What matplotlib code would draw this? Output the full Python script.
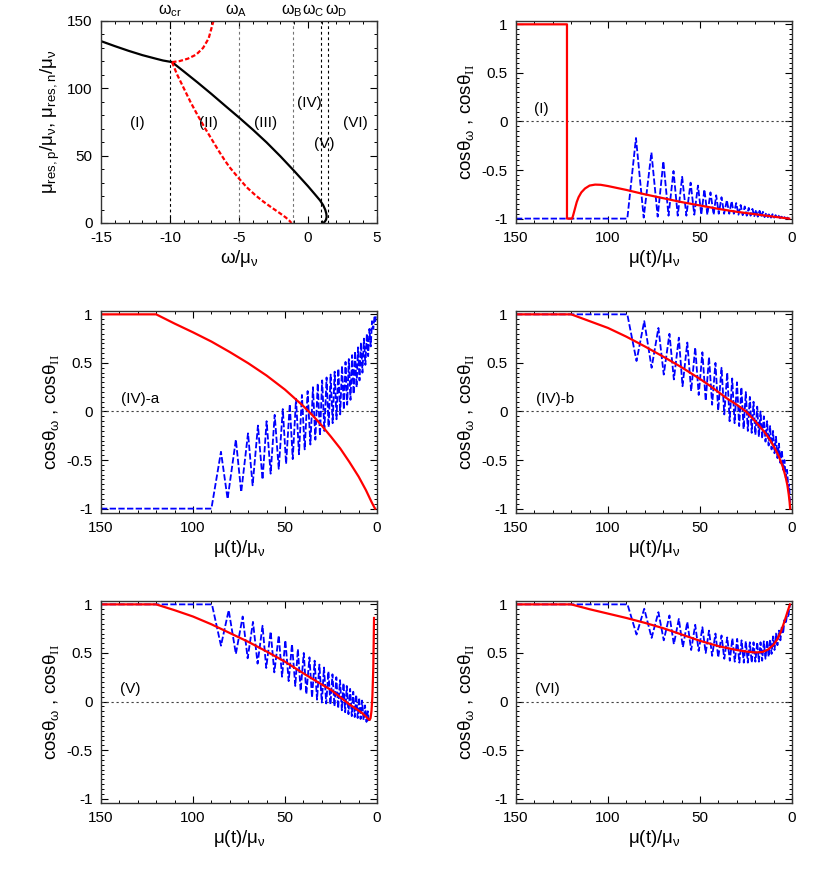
import numpy as np
import matplotlib
matplotlib.use("Agg")
import matplotlib.pyplot as plt
from matplotlib.ticker import MultipleLocator, FixedLocator, FixedFormatter

plt.rcParams['font.family'] = ['Liberation Sans', 'DejaVu Sans']
plt.rcParams['mathtext.fontset'] = 'custom'
plt.rcParams['mathtext.rm'] = 'Liberation Serif'
plt.rcParams['mathtext.default'] = 'regular'
plt.rcParams['axes.unicode_minus'] = False

# ---- panel 1: resonance curves vs omega ----
black_left_w = [-15, -14, -13, -12, -11, -10.5, -10.0, -9.85]
black_left_mu = [135, 131.3, 127.8, 124.6, 121.9, 120.6, 119.7, 119.4]
black_right_w = [-9.85, -9, -8, -7, -6, -5, -4, -3, -2, -1, 0, 0.5, 0.87, 1.1, 1.25, 1.33, 1.35, 1.31, 1.22, 1.1]
black_right_mu = [119.4, 112.5, 104.3, 95.8, 87.0, 78.3, 69.3, 59.8, 49.5, 38.6, 27.3, 21.3, 16.8, 13.2, 9.8, 6.8, 4.5, 2.5, 1.0, 0.0]
red_up_w = [-9.85, -9.3, -8.7, -8.1, -7.6, -7.2, -6.85]
red_up_mu = [119.4, 120.2, 122.0, 125.0, 130.0, 137.0, 150.0]
red_low_w = [-9.85, -9.5, -9.0, -8.5, -8.0, -7.5, -7.0, -6.5, -6.0, -5.65, -5.0, -4.44, -3.8, -3.24, -2.6, -2.03, -1.6, -1.35, -1.2]
red_low_mu = [119.4, 110.5, 100.0, 89.5, 80.0, 71.0, 62.5, 54.0, 46.0, 41.0, 33.0, 26.5, 20.5, 15.9, 11.2, 7.2, 4.0, 1.7, 0.0]
omega_marks = [-10.0, -5.0, -1.1, 0.95, 1.45]
omega_colors = ['black', '0.45', '0.45', 'black', 'black']
omega_names = [r'ω$_{cr}$', r'ω$_{A}$', r'ω$_{B}$', r'ω$_{C}$', r'ω$_{D}$']
omega_name_x = [-10.0, -5.2, -1.2, 0.35, 2.0]
region_names = ['(I)', '(II)', '(III)', '(IV)', '(V)', '(VI)']
region_x = [-12.4, -7.2, -3.1, 0.1, 1.2, 3.4]
region_y = [74, 74, 74, 89, 59, 74]

# ---- panel (I) ----
I_red_mu = [150, 122.3, 122.3, 119.5, 119, 118, 117, 116, 114.5, 112.5, 110, 107, 104, 100, 90, 80, 70, 60, 50, 40, 30, 20, 10, 1.5]
I_red_c = [1, 1, -1, -1, -0.97, -0.90, -0.83, -0.78, -0.73, -0.69, -0.66, -0.65, -0.652, -0.665, -0.705, -0.75, -0.79,
           -0.83, -0.865, -0.90, -0.93, -0.955, -0.98, -1.0]
I_blue_mu = [150, 89.5, 84.8, 80.6, 76.4, 73.0, 69.9, 67.1, 64.4, 62.1, 59.7, 57.4, 55.1, 53.1, 51.1, 49.3,
             47.6, 46.0, 44.3, 42.6, 41.2, 39.8, 38.3, 36.9, 35.4, 34.1, 32.8, 31.6, 30.3, 29.1, 27.9, 26.8,
             25.7, 24.6, 23.5, 22.5, 21.5, 20.5, 19.5, 18.6, 17.6, 16.7, 15.8, 14.9, 14.0, 13.1, 12.3, 11.4,
             10.6, 9.7, 8.9, 8.1, 7.3, 6.5, 5.7, 4.9, 4.1, 3.3, 2.5, 1.7, 1.0]
I_blue_c = [-1, -1, -0.17, -0.99, -0.32, -0.98, -0.41, -0.97, -0.51, -0.97, -0.57, -0.97, -0.63, -0.96, -0.66, -0.96,
            -0.70, -0.96, -0.73, -0.96, -0.76, -0.95, -0.78, -0.95, -0.81, -0.95, -0.82, -0.95, -0.84, -0.96, -0.86, -0.965,
            -0.875, -0.97, -0.89, -0.97, -0.90, -0.975, -0.91, -0.98, -0.92, -0.98, -0.93, -0.985, -0.94, -0.985, -0.95, -0.99,
            -0.955, -0.99, -0.965, -0.99, -0.97, -0.995, -0.98, -0.995, -0.985, -1.0, -0.99, -1.0, -1.0]

# ---- panel (IV)-a ----
IVa_red_mu = [150, 120, 110, 100, 90, 80, 70, 60, 50, 45, 40, 35, 30, 25, 20, 15, 10, 6, 3, 1.5, 1.0]
IVa_red_c = [1, 1, 0.905, 0.815, 0.72, 0.612, 0.497, 0.37, 0.225, 0.14, 0.055, -0.04, -0.145, -0.26, -0.38, -0.52,
             -0.67, -0.81, -0.93, -0.985, -1.0]
IVa_blue_mu = [150, 90, 84.8, 81.2, 76.7, 73.8, 70.1, 67.6, 64.7, 62.2, 60.0, 57.8, 55.6, 53.4, 51.2, 49.4,
               47.4, 45.8, 44.0, 42.4, 40.8, 39.3, 37.7, 36.2, 34.8, 33.5, 32.2, 31.0, 29.8, 28.6, 27.4, 26.3,
               25.2, 24.1, 23.0, 22.0, 21.0, 20.0, 19.0, 18.0, 17.1, 16.2, 15.3, 14.4, 13.5, 12.7, 11.9, 11.1,
               10.3, 9.5, 8.7, 7.9, 7.1, 6.3, 5.5, 4.8, 4.1, 3.4, 2.7, 2.0, 1.4, 0.9, 0.5]
IVa_blue_c = [-1, -1, -0.415, -0.90, -0.29, -0.83, -0.225, -0.76, -0.145, -0.70, -0.10, -0.64, -0.035, -0.59, 0.025, -0.54,
              0.075, -0.49, 0.13, -0.44, 0.17, -0.39, 0.21, -0.34, 0.25, -0.29, 0.29, -0.25, 0.32, -0.20, 0.35, -0.16,
              0.38, -0.12, 0.41, -0.08, 0.44, -0.03, 0.47, 0.02, 0.51, 0.07, 0.54, 0.12, 0.58, 0.18, 0.62, 0.25,
              0.66, 0.32, 0.71, 0.40, 0.75, 0.48, 0.80, 0.57, 0.85, 0.67, 0.93, 0.85, 0.97, 0.93, 1.0]

# ---- panel (IV)-b ----
IVb_red_mu = [150, 120, 110, 100, 90, 80, 70, 60, 50, 45, 40, 35, 30, 25, 20, 15, 12, 9, 7, 5, 3.5, 2.5, 1.8, 1.3, 1.0]
IVb_red_c = [1, 1, 0.93, 0.86, 0.77, 0.67, 0.565, 0.455, 0.335, 0.27, 0.20, 0.13, 0.07, 0.0, -0.10, -0.21, -0.29,
             -0.39, -0.47, -0.57, -0.67, -0.76, -0.85, -0.93, -1.0]
IVb_blue_mu = [150, 89.5, 84.5, 80.3, 76.3, 72.6, 69.7, 66.6, 64.2, 61.5, 59.5, 56.9, 54.8, 52.6, 50.7, 48.7,
               46.9, 45.1, 43.4, 41.6, 40.1, 38.3, 36.8, 35.2, 33.9, 32.5, 31.2, 29.9, 28.7, 27.5, 26.3, 25.1,
               24.0, 22.9, 21.9, 20.9, 19.9, 18.9, 18.0, 17.1, 16.2, 15.3, 14.4, 13.5, 12.7, 11.9, 11.1, 10.3,
               9.5, 8.7, 7.9, 7.1, 6.3, 5.5, 4.8, 4.1, 3.4, 2.7, 2.0, 1.5, 1.0]
IVb_blue_c = [1, 1, 0.52, 0.93, 0.45, 0.86, 0.38, 0.80, 0.33, 0.76, 0.26, 0.71, 0.21, 0.66, 0.17, 0.61,
              0.11, 0.56, 0.07, 0.50, 0.01, 0.45, -0.03, 0.40, -0.10, 0.34, -0.12, 0.30, -0.15, 0.25, -0.18, 0.20,
              -0.20, 0.15, -0.22, 0.10, -0.24, 0.05, -0.26, 0.0, -0.28, -0.05, -0.31, -0.10, -0.35, -0.15, -0.39, -0.20,
              -0.43, -0.26, -0.48, -0.33, -0.53, -0.40, -0.60, -0.50, -0.68, -0.60, -0.78, -0.75, -1.0]

# ---- panel (V) ----
V_red_mu = [150, 120, 110, 100, 90, 80, 70, 60, 50, 40, 30, 25, 20, 15, 11, 8, 6, 4.5, 4.0, 3.5, 3.0, 2.5, 2.0, 1.6]
V_red_c = [1, 1, 0.94, 0.875, 0.795, 0.705, 0.615, 0.515, 0.41, 0.29, 0.175, 0.12, 0.045, -0.03, -0.08, -0.12,
           -0.155, -0.185, -0.19, -0.17, -0.10, 0.05, 0.35, 0.86]
V_blue_mu = [150, 89.7, 84.8, 80.6, 76.7, 73.0, 70.3, 67.4, 64.9, 62.2, 60.2, 57.8, 55.8, 53.4, 51.6, 49.8,
             48.0, 46.2, 44.4, 43.0, 41.5, 39.8, 38.4, 36.7, 35.3, 33.9, 32.6, 31.3, 30.0, 28.8, 27.6, 26.4,
             25.3, 24.2, 23.1, 22.1, 21.1, 20.1, 19.1, 18.2, 17.3, 16.4, 15.5, 14.6, 13.7, 12.9, 12.1, 11.3,
             10.5, 9.7, 8.9, 8.1, 7.3, 6.5, 5.7, 5.0, 4.4, 4.1]
V_blue_c = [1, 1, 0.575, 0.94, 0.49, 0.875, 0.445, 0.82, 0.39, 0.78, 0.345, 0.72, 0.30, 0.68, 0.255, 0.63,
            0.21, 0.59, 0.16, 0.54, 0.11, 0.50, 0.076, 0.455, 0.04, 0.42, 0.02, 0.38, -0.01, 0.35, -0.02, 0.31,
            -0.03, 0.28, -0.05, 0.25, -0.07, 0.22, -0.09, 0.19, -0.11, 0.16, -0.13, 0.13, -0.15, 0.10, -0.16, 0.07,
            -0.17, 0.04, -0.18, 0.01, -0.19, -0.04, -0.21, -0.10, -0.21, -0.19]

# ---- panel (VI) ----
VI_red_mu = [150, 120, 110, 100, 90, 80, 70, 60, 50, 40, 30, 25, 20, 16, 13, 10, 8, 6, 4, 2.5, 1.1]
VI_red_c = [1, 1, 0.95, 0.905, 0.86, 0.81, 0.755, 0.69, 0.625, 0.57, 0.53, 0.515, 0.505, 0.51, 0.535, 0.585,
            0.64, 0.72, 0.83, 0.92, 1.0]
VI_blue_mu = [150, 89.4, 84.5, 80.3, 76.3, 72.6, 69.7, 66.6, 64.2, 61.5, 59.3, 56.9, 54.8, 52.6, 50.7, 48.7,
              46.9, 45.1, 43.4, 41.6, 40.1, 38.3, 36.8, 35.2, 33.8, 32.4, 31.1, 29.8, 28.6, 27.4, 26.2, 25.1,
              24.0, 22.9, 21.9, 20.9, 19.9, 18.9, 18.0, 17.1, 16.2, 15.3, 14.4, 13.5, 12.7, 11.9, 11.1, 10.3,
              9.5, 8.7, 7.9, 7.1, 6.3, 5.5, 4.8, 4.1, 3.4, 2.7, 2.0, 1.1]
VI_blue_c = [1, 1, 0.69, 0.955, 0.655, 0.92, 0.63, 0.886, 0.59, 0.85, 0.56, 0.82, 0.53, 0.79, 0.52, 0.765,
             0.50, 0.73, 0.47, 0.70, 0.455, 0.68, 0.44, 0.66, 0.42, 0.65, 0.41, 0.645, 0.40, 0.63, 0.40, 0.62,
             0.40, 0.61, 0.40, 0.61, 0.41, 0.61, 0.41, 0.61, 0.42, 0.62, 0.44, 0.63, 0.46, 0.64, 0.49, 0.67,
             0.53, 0.70, 0.58, 0.73, 0.63, 0.78, 0.70, 0.84, 0.80, 0.89, 0.88, 1.0]

cos_ticks = [-1, -0.5, 0, 0.5, 1]
cos_tick_labels = ['-1', '-0.5', '0', '0.5', '1']
mu_ticks = [150, 100, 50, 0]
mu_tick_labels = ['150', '100', '50', '0']

panels = [
    ('(I)', I_red_mu, I_red_c, I_blue_mu, I_blue_c, 136),
    ('(IV)-a', IVa_red_mu, IVa_red_c, IVa_blue_mu, IVa_blue_c, 129),
    ('(IV)-b', IVb_red_mu, IVb_red_c, IVb_blue_mu, IVb_blue_c, 129),
    ('(V)', V_red_mu, V_red_c, V_blue_mu, V_blue_c, 134),
    ('(VI)', VI_red_mu, VI_red_c, VI_blue_mu, VI_blue_c, 133),
]

fig = plt.figure(figsize=(8.3, 8.72), dpi=100)

col_left = [0.1217, 0.6217]
row_bottom = [0.7443, 0.4117, 0.0791]
ax_w, ax_h = 0.3325, 0.2317


def style_axes(ax):
    for sp in ax.spines.values():
        sp.set_linewidth(1.0)
        sp.set_color('0.2')
    ax.tick_params(which='both', direction='in', top=True, right=True, labelsize=11, colors='black')
    ax.tick_params(which='major', length=5, width=0.8, pad=6)
    ax.tick_params(which='minor', length=2.5, width=0.7)


# panel 1
ax = fig.add_axes([col_left[0], row_bottom[0], ax_w, ax_h])
style_axes(ax)
ax.set_xlim(-15, 5)
ax.set_ylim(0, 150)
ax.xaxis.set_major_locator(MultipleLocator(5))
ax.xaxis.set_minor_locator(MultipleLocator(1))
ax.yaxis.set_major_locator(MultipleLocator(50))
ax.yaxis.set_minor_locator(MultipleLocator(10))
for xm, cm in zip(omega_marks, omega_colors):
    ax.axvline(xm, color=cm, lw=0.8, dashes=(2.5, 2.5))
ax.plot(black_left_w, black_left_mu, color='black', lw=1.6)
ax.plot(black_right_w, black_right_mu, color='black', lw=1.6)
ax.plot(red_up_w, red_up_mu, color='red', lw=1.6, dashes=(2, 1))
ax.plot(red_low_w, red_low_mu, color='red', lw=1.6, dashes=(2, 1))
for name, xn in zip(omega_names, omega_name_x):
    ax.text(xn, 1.01, name, transform=ax.get_xaxis_transform(), ha='center', va='bottom', fontsize=11.5)
for name, xr, yr in zip(region_names, region_x, region_y):
    ax.text(xr, yr, name, ha='center', va='center', fontsize=11)
ax.set_xlabel(r'ω/μ$_ν$', fontsize=13.5, labelpad=2)
ax.set_ylabel(r'μ$_{res,p}$/μ$_ν$, μ$_{res,n}$/μ$_ν$', fontsize=13.5, labelpad=4)

# cos panels
positions = [(1, 0), (0, 1), (1, 1), (0, 2), (1, 2)]
for (label, rmu, rc, bmu, bc, lx), (ci, ri) in zip(panels, positions):
    ax = fig.add_axes([col_left[ci], row_bottom[ri], ax_w, ax_h])
    style_axes(ax)
    ax.set_xlim(150, 0)
    ax.set_ylim(-1.045, 1.035)
    ax.xaxis.set_major_locator(FixedLocator(mu_ticks))
    ax.xaxis.set_major_formatter(FixedFormatter(mu_tick_labels))
    ax.xaxis.set_minor_locator(MultipleLocator(10))
    ax.yaxis.set_major_locator(FixedLocator(cos_ticks))
    ax.yaxis.set_major_formatter(FixedFormatter(cos_tick_labels))
    ax.yaxis.set_minor_locator(MultipleLocator(0.05))
    ax.axhline(0, color='0.25', lw=0.8, dashes=(2, 2.5))
    ax.plot(bmu, bc, color='blue', lw=1.3, dashes=(3.5, 1.3))
    ax.plot(rmu, rc, color='red', lw=1.6)
    ax.text(lx, 0.13, label, ha='center', va='center', fontsize=11)
    ax.set_xlabel(r'μ(t)/μ$_ν$', fontsize=13.5, labelpad=2)
    ax.set_ylabel(r'cosθ$_ω$ , cosθ$_{\mathrm{II}}$', fontsize=13.5, labelpad=4)

fig.savefig('out.png', dpi=100)
